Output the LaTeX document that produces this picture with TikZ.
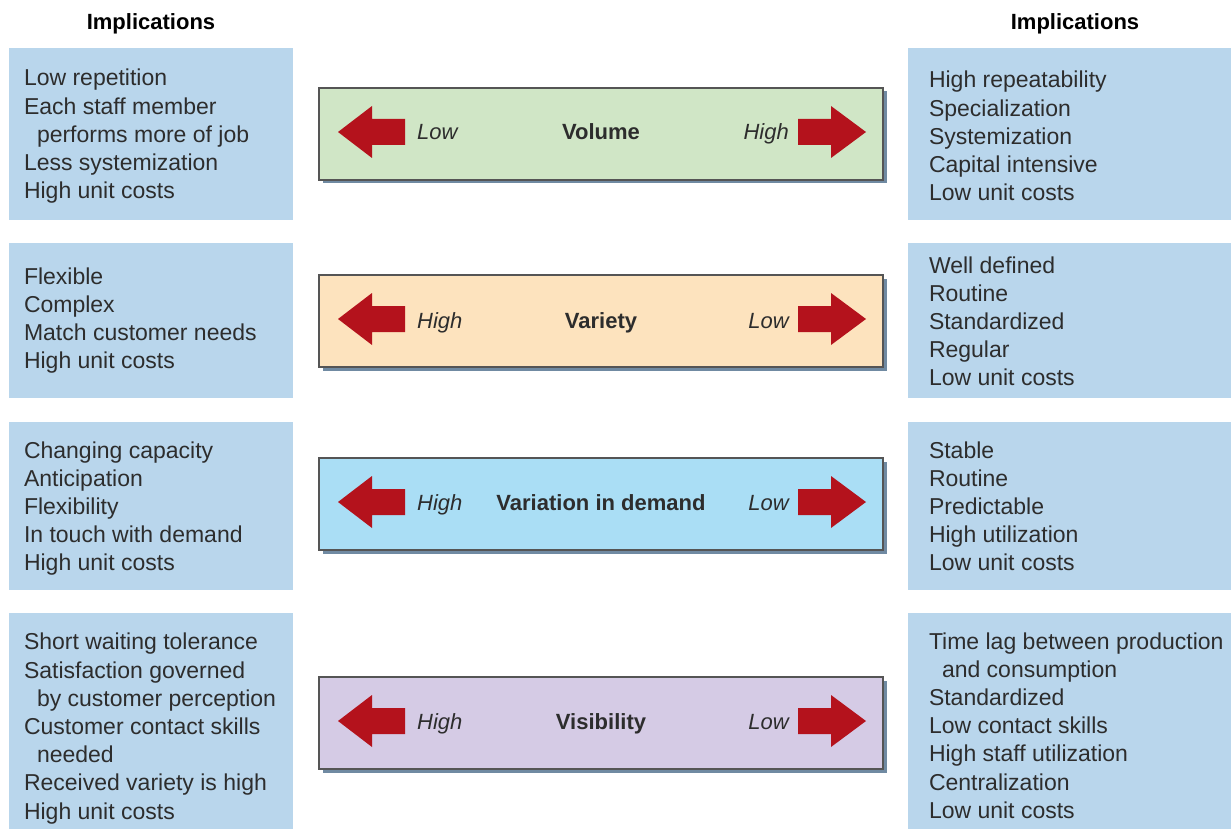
\documentclass[tikz,border=0pt]{standalone}
\usepackage{fontspec}
\setmainfont{Liberation Sans}
\usetikzlibrary{shadows}
\definecolor{sideblue}{RGB}{185,214,236}
\definecolor{volgreen}{RGB}{208,230,198}
\definecolor{varpeach}{RGB}{253,227,190}
\definecolor{demblue}{RGB}{170,222,245}
\definecolor{vislav}{RGB}{213,203,229}
\definecolor{bordergray}{RGB}{85,85,85}
\definecolor{shadowc}{RGB}{112,138,162}
\definecolor{arrowred}{RGB}{180,18,28}
\definecolor{txt}{RGB}{45,45,45}
\begin{document}
\begin{tikzpicture}[x=1pt,y=-1pt,
  side/.style={fill=sideblue, inner sep=0, outer sep=0, anchor=north west, minimum height=#1},
  ltext/.style={anchor=base west, align=left, inner sep=0, outer sep=0, text=txt, font=\fontsize{23}{28.2}\selectfont},
  hdr/.style={anchor=base, inner sep=0, text=black, font=\fontsize{22}{26}\selectfont\bfseries},
  cbox/.style={draw=bordergray, line width=1.4pt, minimum width=564pt, minimum height=92pt, inner sep=0, outer sep=0,
    drop shadow={shadow xshift=3.5pt, shadow yshift=-3.5pt, fill=shadowc, opacity=1}},
  ctitle/.style={anchor=base, inner sep=0, text=txt, font=\fontsize{22}{26}\selectfont\bfseries},
  lh/.style={inner sep=0, text=txt, font=\fontsize{22}{26}\selectfont\itshape},
  larrow/.pic={\fill[arrowred] (0,0) -- (34,-26) -- (34,-13) -- (67,-13) -- (67,13) -- (34,13) -- (34,26) -- cycle;},
  rarrow/.pic={\fill[arrowred] (0,0) -- (-35,-26) -- (-35,-13) -- (-68,-13) -- (-68,13) -- (-35,13) -- (-35,26) -- cycle;}
]
\useasboundingbox (0,0) rectangle (1231,829);

% headers
\node[hdr] (hl) at (151,30) {Implications};
\node[hdr] (hr) at (1075,30) {Implications};

% side boxes
\node[side=172pt, minimum width=284pt] (l1) at (9,48) {};
\node[side=155pt, minimum width=284pt] (l2) at (9,243) {};
\node[side=168pt, minimum width=284pt] (l3) at (9,422) {};
\node[side=216pt, minimum width=284pt] (l4) at (9,613) {};
\node[side=172pt, minimum width=323pt] (r1) at (908,48) {};
\node[side=155pt, minimum width=323pt] (r2) at (908,243) {};
\node[side=168pt, minimum width=323pt] (r3) at (908,422) {};
\node[side=216pt, minimum width=323pt] (r4) at (908,613) {};

% side texts (anchor = baseline of last line)
\node[ltext] (tl1) at (24,198.8) {Low repetition\\Each staff member\\\hspace*{13pt}performs more of job\\Less systemization\\High unit costs};
\node[ltext] (tl2) at (24,368.6) {Flexible\\Complex\\Match customer needs\\High unit costs};
\node[ltext] (tl3) at (24,570.8) {Changing capacity\\Anticipation\\Flexibility\\In touch with demand\\High unit costs};
\node[ltext] (tl4) at (24,819) {Short waiting tolerance\\Satisfaction governed\\\hspace*{13pt}by customer perception\\Customer contact skills\\\hspace*{13pt}needed\\Received variety is high\\High unit costs};
\node[ltext] (tr1) at (929,200.8) {High repeatability\\Specialization\\Systemization\\Capital intensive\\Low unit costs};
\node[ltext] (tr2) at (929,385.8) {Well defined\\Routine\\Standardized\\Regular\\Low unit costs};
\node[ltext] (tr3) at (929,570.8) {Stable\\Routine\\Predictable\\High utilization\\Low unit costs};
\node[ltext] (tr4) at (929,818.2) {Time lag between production\\\hspace*{13pt}and consumption\\Standardized\\Low contact skills\\High staff utilization\\Centralization\\Low unit costs};

% center boxes
\node[cbox, fill=volgreen] (vol) at (601,134) {};
\node[cbox, fill=varpeach] (var) at (601,321) {};
\node[cbox, fill=demblue] (dem) at (601,504) {};
\node[cbox, fill=vislav] (vis) at (601,723) {};

% arrows
\path (vol.west) ++(19,-2) pic {larrow};
\path (vol.east) ++(-17,-2) pic {rarrow};
\path (var.west) ++(19,-2) pic {larrow};
\path (var.east) ++(-17,-2) pic {rarrow};
\path (dem.west) ++(19,-2) pic {larrow};
\path (dem.east) ++(-17,-2) pic {rarrow};
\path (vis.west) ++(19,-2) pic {larrow};
\path (vis.east) ++(-17,-2) pic {rarrow};

% titles
\node[ctitle] (volt) at (601,140) {Volume};
\node[ctitle] (vart) at (601,328) {Variety};
\node[ctitle] (demt) at (601,510) {Variation in demand};
\node[ctitle] (vist) at (601,729) {Visibility};

% low/high labels
\node[lh, anchor=base west] (voll) at (417,140) {Low};
\node[lh, anchor=base east] (volh) at (789,140) {High};
\node[lh, anchor=base west] (varl) at (417,328) {High};
\node[lh, anchor=base east] (varh) at (789,328) {Low};
\node[lh, anchor=base west] (deml) at (417,510) {High};
\node[lh, anchor=base east] (demh) at (789,510) {Low};
\node[lh, anchor=base west] (visl) at (417,729) {High};
\node[lh, anchor=base east] (vish) at (789,729) {Low};
\end{tikzpicture}
\end{document}
